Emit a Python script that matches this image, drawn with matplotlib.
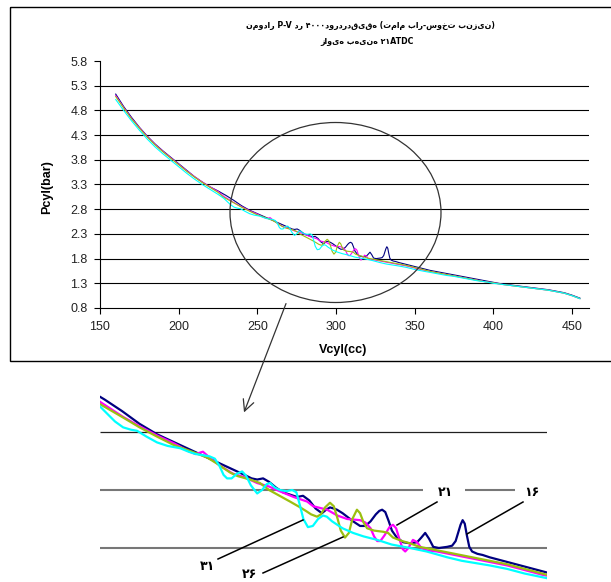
import matplotlib
matplotlib.use("Agg")
import matplotlib.pyplot as plt
import matplotlib.patches as mpatches

plt.rcParams["font.family"] = ["Liberation Sans", "DejaVu Sans"]

# ---------------- data ----------------
V16 = [160, 165, 170, 175, 180, 185, 190, 195, 200, 205, 210, 215, 220, 225, 230, 235, 240, 245, 250, 255, 260, 265,
       270, 272, 273.6, 275.3, 277, 279, 281, 283, 285, 286.7, 288.5, 290.3, 292.1, 293.3, 294.4, 295.5, 296.4, 298,
       299.3, 301, 303, 304.5, 306, 307.5, 308.5, 309.3, 310.2, 311.2, 312.1, 313.5, 315.3, 317.3, 319.3, 320.5,
       321.6, 322.7, 323.9, 325.5, 327.9, 329.3, 330.3, 331, 331.7, 332.3, 332.9, 333.5, 334.2, 335, 336.5, 338, 340,
       345, 350, 355, 360, 365, 370, 375, 380, 385, 390, 395, 400, 405, 410, 415, 420, 425, 430, 435, 440, 445, 450, 455]
P16 = [5.13, 4.88, 4.66, 4.46, 4.28, 4.12, 3.98, 3.85, 3.72, 3.59, 3.46, 3.35, 3.25, 3.17, 3.08, 2.98, 2.87, 2.78,
       2.71, 2.64, 2.57, 2.50,
       2.43, 2.40, 2.39, 2.40, 2.37, 2.32, 2.28, 2.26, 2.24, 2.25, 2.21, 2.14, 2.10, 2.13, 2.15, 2.14, 2.13, 2.10,
       2.07, 2.03, 1.99, 1.99, 2.03, 2.09, 2.12, 2.13, 2.11, 2.03, 1.95, 1.89, 1.85, 1.84, 1.85, 1.89,
       1.93, 1.88, 1.81, 1.80, 1.81, 1.82, 1.86, 1.93, 2.00, 2.04, 2.01, 1.91, 1.81, 1.77, 1.75, 1.74, 1.72,
       1.68, 1.64, 1.60, 1.56, 1.53, 1.50, 1.47, 1.44, 1.41, 1.38, 1.35, 1.32, 1.29, 1.27, 1.25, 1.23, 1.21, 1.19,
       1.17, 1.14, 1.11, 1.06, 1.00]

V21 = [160, 165, 170, 175, 180, 185, 190, 195, 200, 205, 210, 215, 220, 225,
       228.7, 235.3, 240, 245, 250, 253.6, 256, 258.1, 260, 262.1,
       264, 266.7, 270, 273.6, 277, 280, 284, 287.9, 289.6, 293.6,
       296.5, 299.3, 303, 304.5, 306, 307, 307.9, 308.8, 310, 311.4,
       312.4, 313.3, 314.3, 315.2, 315.9, 316.8, 318.1, 319.3, 320.5, 322,
       325, 330, 335, 340, 345, 350, 355, 360, 365, 370,
       375, 380, 385, 390, 395, 400, 405, 410, 415, 420,
       425, 430, 435, 440, 445, 450, 455]
P21 = [5.10, 4.86, 4.64, 4.45, 4.27, 4.11, 3.97, 3.84, 3.71, 3.58, 3.46, 3.35, 3.25, 3.16,
       3.06, 2.93, 2.85, 2.77, 2.70, 2.64, 2.61, 2.63, 2.58, 2.53,
       2.49, 2.44, 2.41, 2.36, 2.33, 2.29, 2.24, 2.20, 2.16, 2.13,
       2.08, 2.05, 2.04, 2.02, 1.97, 1.90, 1.86, 1.86, 1.91, 1.98,
       2.00, 1.97, 1.87, 1.79, 1.77, 1.80, 1.87, 1.85, 1.80, 1.78,
       1.77, 1.74, 1.71, 1.68, 1.65, 1.61, 1.57, 1.54, 1.51, 1.48,
       1.45, 1.42, 1.39, 1.36, 1.33, 1.31, 1.28, 1.26, 1.24, 1.22,
       1.20, 1.18, 1.16, 1.13, 1.10, 1.05, 0.99]

V26 = [160, 165, 170, 175, 180, 185, 190, 195, 200, 205, 210, 215, 220, 225,
       228.7, 235, 240, 245, 249.6, 255, 259.3, 262, 265.9, 268,
       271.6, 274.4, 277, 280, 283, 285.9, 287.5, 289, 290.7, 291.8,
       293, 294.4, 295.5, 296.5, 297.5, 298.7, 299.8, 300.8, 302.1, 303,
       304, 305, 307, 309.6, 311, 312.4, 315, 317.3, 320, 325,
       330, 335, 340, 345, 350, 355, 360, 365, 370, 375,
       380, 385, 390, 395, 400, 405, 410, 415, 420, 425,
       430, 435, 440, 445, 450, 455]
P26 = [5.08, 4.85, 4.63, 4.44, 4.26, 4.10, 3.96, 3.83, 3.70, 3.57, 3.45, 3.34, 3.24, 3.14,
       3.04, 2.93, 2.84, 2.76, 2.69, 2.63, 2.58, 2.53, 2.45, 2.42,
       2.39, 2.36, 2.30, 2.25, 2.20, 2.15, 2.12, 2.09, 2.07, 2.09,
       2.15, 2.19, 2.16, 2.06, 1.95, 1.89, 1.93, 2.05, 2.13, 2.10,
       2.02, 1.97, 1.95, 1.94, 1.93, 1.89, 1.86, 1.84, 1.81, 1.78,
       1.75, 1.72, 1.69, 1.66, 1.62, 1.58, 1.54, 1.51, 1.48, 1.45,
       1.42, 1.39, 1.36, 1.33, 1.31, 1.28, 1.26, 1.24, 1.22, 1.20,
       1.18, 1.16, 1.13, 1.10, 1.05, 0.99]

V31 = [160, 165, 170, 175, 180, 185, 190, 195, 200, 205, 210, 215, 220, 225,
       228.7, 231, 233, 235.3, 237.5, 239.3, 242, 245, 248, 251.6,
       254, 256, 258, 260, 261.5, 262.8, 264, 265, 266.3, 267.8,
       269.3, 270.5, 271.8, 273.6, 275, 276.3, 277.3, 278.7, 280.1, 282,
       283.6, 284.8, 285.8, 286.8, 288.1, 289.5, 291, 292.4, 293.5, 295,
       298, 301, 304, 307.9, 312, 317.3, 322, 327.9, 332, 336,
       340, 345, 350, 356.4, 360, 365, 370, 375, 380, 385,
       390, 395, 400, 405, 410, 415, 420, 425, 430, 435,
       440, 445, 450, 455]
P31 = [5.02, 4.80, 4.59, 4.40, 4.22, 4.06, 3.92, 3.79, 3.66, 3.53, 3.41, 3.30, 3.20, 3.10,
       3.02, 2.95, 2.89, 2.84, 2.82, 2.81, 2.76, 2.71, 2.68, 2.66,
       2.63, 2.61, 2.60, 2.59, 2.57, 2.51, 2.43, 2.40, 2.40, 2.44,
       2.46, 2.42, 2.34, 2.27, 2.30, 2.35, 2.36, 2.32, 2.30, 2.29,
       2.30, 2.28, 2.17, 2.05, 1.98, 1.99, 2.05, 2.08, 2.07, 2.03,
       1.97, 1.93, 1.90, 1.87, 1.83, 1.80, 1.77, 1.72, 1.69, 1.67,
       1.65, 1.62, 1.58, 1.54, 1.52, 1.49, 1.46, 1.44, 1.41, 1.38,
       1.35, 1.33, 1.30, 1.28, 1.26, 1.24, 1.22, 1.20, 1.18, 1.16,
       1.13, 1.10, 1.05, 0.99]

SERIES = [("16", V16, P16, "#000080"),
          ("21", V21, P21, "#ff00ff"),
          ("26", V26, P26, "#9bbf10"),
          ("31", V31, P31, "#00ffff")]

X_TICKS = [150, 200, 250, 300, 350, 400, 450]
Y_TICKS = [0.8, 1.3, 1.8, 2.3, 2.8, 3.3, 3.8, 4.3, 4.8, 5.3, 5.8]

TITLE_1 = "نمودار P-V در ۴۰۰۰دوردردقیقه (تمام بار-سوخت بنزین)"
TITLE_2 = "زاویه بهینه ۲۱ATDC"

# ---------------- figure ----------------
W, H = 611, 582
fig = plt.figure(figsize=(W / 100, H / 100), dpi=100)


def frac(x0, y0, x1, y1):
    return [x0 / W, 1 - y1 / H, (x1 - x0) / W, (y1 - y0) / H]


# main chart
ax = fig.add_axes(frac(100, 61, 589, 308))
for name, v, p, c in SERIES:
    ax.plot(v, p, color=c, lw=0.8)
for y in Y_TICKS[1:-1]:
    ax.axhline(y, color="black", lw=0.8, zorder=0)
ax.set_xlim(150, 460.8)
ax.set_ylim(0.8, 5.8)
ax.set_xticks(X_TICKS)
ax.set_yticks(Y_TICKS)
ax.set_yticklabels([f"{y:.1f}" for y in Y_TICKS])
ax.tick_params(direction="out", length=4, width=0.8, labelsize=9, colors="black",
               labelcolor="#222222")
ax.tick_params(axis="y", pad=5)
ax.tick_params(axis="x", pad=5)
for s in ("top", "right"):
    ax.spines[s].set_visible(False)
for s in ("left", "bottom"):
    ax.spines[s].set_linewidth(0.8)
ax.patch.set_alpha(0)

# zoomed detail below
ax2 = fig.add_axes(frac(100, 380, 547, 582))
for name, v, p, c in SERIES:
    ax2.plot(v, p, color=c, lw=1.6)
ax2.set_xlim(228.7, 356.4)
ax2.set_ylim(1.507, 3.248)
ax2.hlines(2.8, 228.7, 356.4, color="#202020", lw=0.9, zorder=0)
ax2.hlines([2.3, 2.3], [228.7, 333.0], [320.9, 347.3], color="#777777", lw=1.5, zorder=0)
ax2.hlines(1.8, 228.7, 356.4, color="#777777", lw=1.5, zorder=0)
ax2.axis("off")

# overlay in pixel coordinates
ov = fig.add_axes([0, 0, 1, 1])
ov.set_xlim(0, W)
ov.set_ylim(H, 0)
ov.axis("off")
ov.patch.set_alpha(0)

ov.add_patch(mpatches.Rectangle((10, 7), 620, 354, fill=False, ec="black", lw=1))
ov.add_patch(mpatches.Ellipse((335.5, 212.5), 211, 180, fill=False, ec="#333333", lw=0.9))
ov.annotate("", xy=(243, 415), xytext=(287, 301),
            arrowprops=dict(arrowstyle="->,head_length=0.8,head_width=0.4",
                            color="#333333", lw=0.9))

ov.text(370, 25, TITLE_1, ha="center", va="center", fontsize=5.7, fontweight="bold",
        family="DejaVu Sans")
ov.text(367, 42, TITLE_2, ha="center", va="center", fontsize=5.7, fontweight="bold",
        family="DejaVu Sans")
ov.text(47, 187, "Pcyl(bar)", rotation=90, ha="center", va="center", fontsize=9,
        fontweight="bold")
ov.text(343, 350, "Vcyl(cc)", ha="center", va="center", fontsize=9, fontweight="bold")

# leader lines and labels of the detail
leaders = [((218, 559), (303, 520), "۳۱", (207, 567)),
           ((263, 573), (343, 537), "۲۶", (249, 574)),
           ((397, 525), (437, 502), "۲۱", (445, 492)),
           ((467, 534), (523, 502), "۱۶", (532, 493))]
for (x0, y0), (x1, y1), lab, (tx, ty) in leaders:
    ov.plot([x0, x1], [y0, y1], color="black", lw=1.1)
    ov.text(tx, ty, lab, ha="center", va="center", fontsize=9, fontweight="bold",
            family="DejaVu Sans")

fig.savefig("out.png", dpi=100)
